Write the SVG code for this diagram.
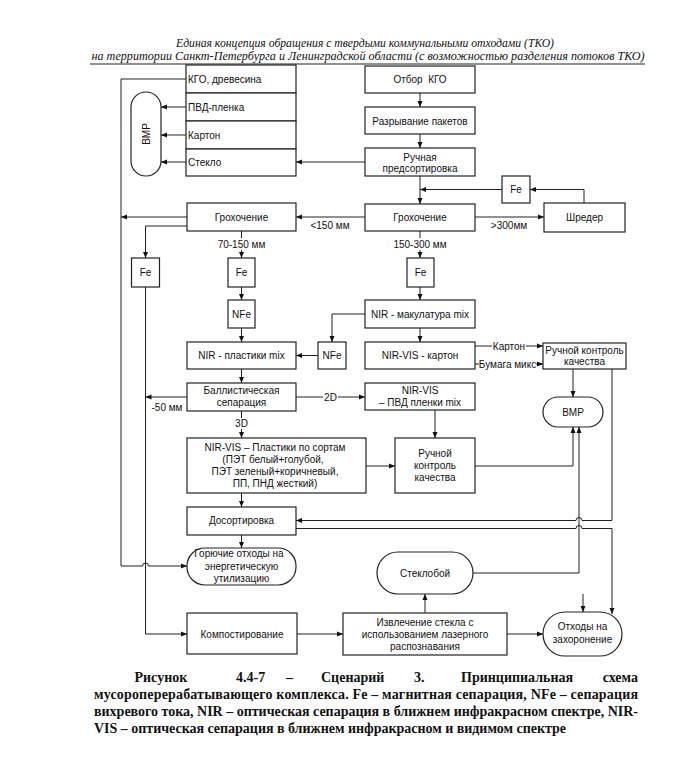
<svg xmlns="http://www.w3.org/2000/svg" width="681" height="775" viewBox="0 0 681 775">
<style>
.b{fill:#fff;stroke:#222;stroke-width:1.2}
.t{font-family:"Liberation Sans",Arial,sans-serif;font-size:10px;fill:#111}
.c{text-anchor:middle}
.l{fill:none;stroke:#222;stroke-width:1}
.a{marker-end:url(#ar)}
.bg{fill:#fff;stroke:none}
.h{font-family:"Liberation Serif","Times New Roman",serif;font-style:italic;font-size:12px;fill:#111;text-anchor:middle}
.cap{font-family:"Liberation Serif","Times New Roman",serif;font-weight:bold;font-size:14px;fill:#111}
</style>
<defs>
<marker id="ar" markerUnits="userSpaceOnUse" markerWidth="6" markerHeight="6" refX="6" refY="3" orient="auto">
<path d="M0,0.5 L6,3 L0,5.5 z" fill="#111"/>
</marker>
</defs>
<rect width="681" height="775" fill="#fff"/>

<g id="header">
<text class="h" x="365" y="46.5" textLength="378" lengthAdjust="spacingAndGlyphs">Единая концепция обращения с твердыми коммунальными отходами (ТКО)</text>
<text class="h" x="368" y="59.5" textLength="553" lengthAdjust="spacingAndGlyphs">на территории Санкт-Петербурга и Ленинградской области (с возможностью разделения потоков ТКО)</text>
<line x1="90" y1="64" x2="645" y2="64" stroke="#222" stroke-width="1.2"/>
</g>

<g id="connectors">
<path class="l a" d="M420,93 V107"/>
<path class="l a" d="M420,134 V148"/>
<path class="l a" d="M420,176 V204"/>
<path class="l a" d="M365,162 H296"/>
<path class="l a" d="M502,189.5 H420"/>
<path class="l a" d="M584,203 V189.5 H530"/>
<path class="l a" d="M475,217 H544"/>
<path class="l a" d="M365,217 H296"/>
<path class="l a" d="M420,231 V258"/>
<path class="l a" d="M420,287 V300"/>
<path class="l a" d="M420,328 V342"/>
<path class="l a" d="M365,314 H332 V342"/>
<path class="l a" d="M318,355.5 H296"/>
<path class="l a" d="M475,346 H543"/>
<path class="l a" d="M475,364 H543"/>
<path class="l a" d="M573,369 V397"/>
<path class="l a" d="M612,369 V520.5 H582 A3,3 0 0 0 576,520.5 H296"/>
<path class="l a" d="M296,528.5 H576 A3,3 0 0 1 582,528.5 H612 V614"/>
<path class="l a" d="M187,217 H121"/>
<path class="l a" d="M186,79 H121 V566 H142.5 A3,3 0 0 1 148.5,566 H187"/>
<path class="l a" d="M186,107 H161"/>
<path class="l a" d="M186,135 H161"/>
<path class="l a" d="M186,162 H161"/>
<path class="l a" d="M187,226 H145.5 V258"/>
<path class="l a" d="M145.5,287 V634 H187"/>
<path class="l a" d="M241.5,231 V258"/>
<path class="l a" d="M241.5,287 V300"/>
<path class="l a" d="M241.5,328 V342"/>
<path class="l a" d="M241.5,369 V383"/>
<path class="l a" d="M187,397 H145.5"/>
<path class="l a" d="M296,397 H365"/>
<path class="l a" d="M241.5,411 V438"/>
<path class="l a" d="M435,410 V438"/>
<path class="l a" d="M366,466 H395"/>
<path class="l a" d="M475,466 H573 V427"/>
<path class="l a" d="M241.5,493 V507"/>
<path class="l a" d="M241.5,535 V548"/>
<path class="l a" d="M473,573 H579 V427"/>
<path class="l a" d="M425,613 V594"/>
<path class="l a" d="M297,634 H343"/>
<path class="l a" d="M507,634 H543"/>
<path class="l a" d="M583,594 V612"/>
<rect class="bg" x="214" y="238" width="55" height="12"/>
<text class="t c" x="241.5" y="247.5">70-150 мм</text>
<rect class="bg" x="392" y="238" width="56" height="12"/>
<text class="t c" x="420" y="247.5">150-300 мм</text>
<text class="t c" x="330" y="229">&lt;150 мм</text>
<text class="t c" x="509" y="229">&gt;300мм</text>
<rect class="bg" x="492" y="341" width="34" height="10"/>
<text class="t c" x="509" y="349.5">Картон</text>
<rect class="bg" x="479" y="359" width="57" height="10"/>
<text class="t c" x="507.5" y="367.5">Бумага микс</text>
<text class="t c" x="167" y="410.5">-50 мм</text>
<rect class="bg" x="323" y="392" width="15" height="10"/>
<text class="t c" x="330.5" y="400.5">2D</text>
<rect class="bg" x="234" y="418" width="15" height="11"/>
<text class="t c" x="241.5" y="426.5">3D</text>
</g>

<g id="n-kgo"><rect class="b" x="186" y="65" width="110" height="28"/><text class="t" x="188" y="82.5">КГО, древесина</text></g>
<g id="n-pvd"><rect class="b" x="186" y="93" width="110" height="28"/><text class="t" x="188" y="110.5">ПВД-пленка</text></g>
<g id="n-karton"><rect class="b" x="186" y="121" width="110" height="28"/><text class="t" x="188" y="138.5">Картон</text></g>
<g id="n-steklo"><rect class="b" x="186" y="149" width="110" height="27"/><text class="t" x="188" y="165.5">Стекло</text></g>
<g id="n-vmr1"><rect class="b" x="131" y="92" width="30" height="84" rx="15"/><text class="t c" transform="translate(149.5,134) rotate(-90)">ВМР</text></g>
<g id="n-otbor"><rect class="b" x="365" y="66" width="110" height="27"/><text class="t c" x="420" y="83" xml:space="preserve">Отбор  КГО</text></g>
<g id="n-razr"><rect class="b" x="365" y="107" width="110" height="27"/><text class="t c" x="420" y="124.5">Разрывание пакетов</text></g>
<g id="n-ruch"><rect class="b" x="365" y="148" width="110" height="28"/><text class="t c" x="420" y="160.5">Ручная</text><text class="t c" x="420" y="172">предсортировка</text></g>
<g id="n-fe-top"><rect class="b" x="502" y="176" width="28" height="27"/><text class="t c" x="516" y="193">Fe</text></g>
<g id="n-shreder"><rect class="b" x="544" y="203" width="81" height="29"/><text class="t c" x="584.5" y="221">Шредер</text></g>
<g id="n-groh-main"><rect class="b" x="365" y="204" width="110" height="27"/><text class="t c" x="420" y="221">Грохочение</text></g>
<g id="n-groh-left"><rect class="b" x="187" y="203" width="109" height="28"/><text class="t c" x="241.5" y="220.5">Грохочение</text></g>
<g id="n-fe-left"><rect class="b" x="131.5" y="258" width="28" height="29"/><text class="t c" x="145.5" y="276">Fe</text></g>
<g id="n-fe-mid"><rect class="b" x="228" y="258" width="27" height="29"/><text class="t c" x="241.5" y="276">Fe</text></g>
<g id="n-fe-main"><rect class="b" x="407" y="258" width="27" height="29"/><text class="t c" x="420.5" y="276">Fe</text></g>
<g id="n-nfe-mid"><rect class="b" x="228" y="300" width="27" height="28"/><text class="t c" x="241.5" y="317.5">NFe</text></g>
<g id="n-makul"><rect class="b" x="365" y="300" width="110" height="28"/><text class="t c" x="420" y="317.5">NIR - макулатура mix</text></g>
<g id="n-plast-mix"><rect class="b" x="187" y="342" width="109" height="27"/><text class="t c" x="241.5" y="359">NIR - пластики mix</text></g>
<g id="n-nfe-right"><rect class="b" x="318" y="342" width="28" height="27"/><text class="t c" x="332" y="359">NFe</text></g>
<g id="n-nirvis-karton"><rect class="b" x="365" y="342" width="110" height="27"/><text class="t c" x="420" y="359">NIR-VIS - картон</text></g>
<g id="n-ruch-top"><rect class="b" x="543" y="343" width="83" height="26"/><text class="t c" x="584.5" y="353.5">Ручной контроль</text><text class="t c" x="584.5" y="365">качества</text></g>
<g id="n-vmr2"><rect class="b" x="543" y="397" width="60" height="30" rx="15"/><text class="t c" x="573" y="415.5">ВМР</text></g>
<g id="n-ballist"><rect class="b" x="187" y="383" width="109" height="28"/><text class="t c" x="241.5" y="394">Баллистическая</text><text class="t c" x="241.5" y="406">сепарация</text></g>
<g id="n-pvd-mix"><rect class="b" x="365" y="383" width="110" height="27"/><text class="t c" x="420" y="394">NIR-VIS</text><text class="t c" x="420" y="406">– ПВД пленки mix</text></g>
<g id="n-plast-sort"><rect class="b" x="187" y="438" width="179" height="55"/>
<text class="t c" x="275" y="451">NIR-VIS – Пластики по сортам</text>
<text class="t c" x="273" y="463">(ПЭТ белый+голубой,</text>
<text class="t c" x="275" y="475">ПЭТ зеленый+коричневый,</text>
<text class="t c" x="275" y="487">ПП, ПНД жесткий)</text></g>
<g id="n-ruch-mid"><rect class="b" x="395" y="438" width="80" height="55"/><text class="t c" x="435" y="457">Ручной</text><text class="t c" x="435" y="469">контроль</text><text class="t c" x="435" y="481">качества</text></g>
<g id="n-dosort"><rect class="b" x="187" y="507" width="109" height="28"/><text class="t c" x="241.5" y="524">Досортировка</text></g>
<g id="n-goruch"><rect class="b" x="187" y="548" width="109" height="37" rx="18"/><text class="t c" x="239" y="556.5">Горючие отходы на</text><text class="t c" x="241.5" y="569.5">энергетическую</text><text class="t c" x="241.5" y="581.5">утилизацию</text></g>
<g id="n-stekloboy"><rect class="b" x="377" y="552" width="96" height="42" rx="21"/><text class="t c" x="425" y="576.5">Стеклобой</text></g>
<g id="n-kompost"><rect class="b" x="187" y="613" width="110" height="41"/><text class="t c" x="242" y="637.5">Компостирование</text></g>
<g id="n-izvl"><rect class="b" x="343" y="613" width="164" height="42"/><text class="t c" x="425" y="625.5">Извлечение стекла с</text><text class="t c" x="425" y="637.5">использованием лазерного</text><text class="t c" x="425" y="649.5">распознавания</text></g>
<g id="n-othody"><rect class="b" x="543" y="612" width="79" height="44" rx="22"/><text class="t c" x="582.5" y="630">Отходы на</text><text class="t c" x="582.5" y="642.5">захоронение</text></g>

<g id="caption">
<text class="cap" x="134.5" y="682">Рисунок</text>
<text class="cap" x="236" y="682">4.4-7</text>
<text class="cap" x="286" y="682">–</text>
<text class="cap" x="321" y="682">Сценарий</text>
<text class="cap" x="414" y="682">3.</text>
<text class="cap" x="461" y="682">Принципиальная</text>
<text class="cap" x="638" y="682" text-anchor="end">схема</text>
<text class="cap" x="94" y="699" textLength="544" lengthAdjust="spacing">мусороперерабатывающего комплекса. Fe – магнитная сепарация, NFe – сепарация</text>
<text class="cap" x="94" y="716" textLength="544" lengthAdjust="spacing">вихревого тока, NIR – оптическая сепарация в ближнем инфракрасном спектре, NIR-</text>
<text class="cap" x="94" y="733" textLength="472" lengthAdjust="spacing">VIS – оптическая сепарация в ближнем инфракрасном и видимом спектре</text>
</g>
</svg>
